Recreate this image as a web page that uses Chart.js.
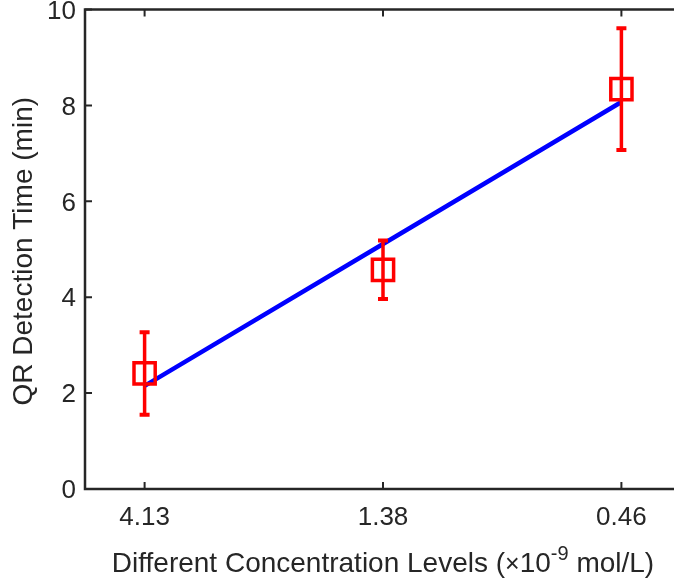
<!DOCTYPE html>
<html>
<head>
<meta charset="utf-8">
<script src="https://cdn.jsdelivr.net/npm/chart.js@4.4.1/dist/chart.umd.min.js"></script>
<style>
  html, body { margin: 0; padding: 0; background: #fff; }
  #wrap { width: 674px; height: 581px; overflow: hidden; }
</style>
</head>
<body>
<div id="wrap"><canvas id="chart" width="681" height="581"></canvas></div>
<script>
// data
const categories = ['4.13', '1.38', '0.46'];
const meanTime = [2.41, 4.57, 8.34];
const errTime = [0.86, 0.61, 1.27];
const fitTime = [2.15, 5.11, 8.07];
const yTicks = [0, 2, 4, 6, 8, 10];

const AXIS = '#262626';
const FONT = "'Liberation Sans', Arial, Helvetica, sans-serif";

// MATLAB-ish box, inward ticks, error bars and axis titles
const matlabAxes = {
  id: 'matlabAxes',
  afterDatasetsDraw(chart) {
    const ctx = chart.ctx, xs = chart.scales.x, ys = chart.scales.y;
    ctx.save();
    ctx.strokeStyle = '#ff0000';
    meanTime.forEach((m, i) => {
      const x = xs.getPixelForValue(i + 1);
      const top = ys.getPixelForValue(m + errTime[i]);
      const bot = ys.getPixelForValue(m - errTime[i]);
      ctx.lineWidth = 3.5;
      ctx.beginPath();
      ctx.moveTo(x, top); ctx.lineTo(x, bot);
      ctx.stroke();
      ctx.lineWidth = 4;
      ctx.beginPath();
      ctx.moveTo(x - 5, top); ctx.lineTo(x + 5, top);
      ctx.moveTo(x - 5, bot); ctx.lineTo(x + 5, bot);
      ctx.stroke();
    });
    ctx.restore();
  },
  afterDraw(chart) {
    const ctx = chart.ctx, a = chart.chartArea;
    const xs = chart.scales.x, ys = chart.scales.y;
    const tl = 7;
    ctx.save();
    ctx.strokeStyle = AXIS;
    ctx.lineWidth = 2.5;
    ctx.strokeRect(a.left, a.top, a.right - a.left, a.bottom - a.top);
    ctx.lineWidth = 2;
    ctx.beginPath();
    categories.forEach((c, i) => {
      const x = xs.getPixelForValue(i + 1);
      ctx.moveTo(x, a.bottom); ctx.lineTo(x, a.bottom - tl);
      ctx.moveTo(x, a.top); ctx.lineTo(x, a.top + tl);
    });
    yTicks.forEach(v => {
      const y = ys.getPixelForValue(v);
      ctx.moveTo(a.left, y); ctx.lineTo(a.left + tl, y);
      ctx.moveTo(a.right, y); ctx.lineTo(a.right - tl, y);
    });
    ctx.stroke();

    // y title
    ctx.fillStyle = AXIS;
    ctx.font = '28px ' + FONT;
    ctx.textAlign = 'center';
    ctx.textBaseline = 'alphabetic';
    ctx.save();
    ctx.translate(32, (a.top + a.bottom) / 2 + 2);
    ctx.rotate(-Math.PI / 2);
    ctx.fillText('QR Detection Time (min)', 0, 0);
    ctx.restore();

    // x title with superscript
    const parts = [
      { t: 'Different Concentration Levels (', f: 28, dy: 0 },
      { t: '\u00d7', f: 25, dy: 0 },
      { t: '10', f: 28, dy: 0 },
      { t: '-9', f: 20, dy: -12 },
      { t: ' mol/L)', f: 28, dy: 0 }
    ];
    let total = 0;
    parts.forEach(p => { ctx.font = p.f + 'px ' + FONT; p.w = ctx.measureText(p.t).width; total += p.w; });
    let x = 383 - total / 2;
    const base = 572;
    ctx.textAlign = 'left';
    parts.forEach(p => {
      ctx.font = p.f + 'px ' + FONT;
      ctx.fillText(p.t, x, base + p.dy);
      x += p.w;
    });
    ctx.restore();
  }
};

new Chart(document.getElementById('chart'), {
  type: 'scatter',
  data: {
    datasets: [
      {
        type: 'scatter',
        data: meanTime.map((v, i) => ({ x: i + 1, y: v })),
        pointStyle: 'rect',
        pointRadius: 15,
        pointHoverRadius: 15,
        borderColor: '#ff0000',
        backgroundColor: 'rgba(0,0,0,0)',
        borderWidth: 3.5,
        order: 0
      },
      {
        type: 'line',
        data: fitTime.map((v, i) => ({ x: i + 1, y: v })),
        borderColor: '#0000ff',
        borderWidth: 4.5,
        pointRadius: 0,
        fill: false,
        tension: 0,
        order: 1
      }
    ]
  },
  options: {
    responsive: false,
    animation: false,
    events: [],
    layout: { autoPadding: false, padding: { top: 9.5, right: 0, bottom: 0, left: 0 } },
    plugins: { legend: { display: false }, tooltip: { enabled: false } },
    scales: {
      x: {
        type: 'linear',
        min: 0.75,
        max: 3.25,
        afterBuildTicks(scale) { scale.ticks = categories.map((c, i) => ({ value: i + 1 })); },
        afterFit(scale) {
          scale.height = 92;
          scale.paddingLeft = 0; scale.paddingRight = 0; scale.paddingTop = 0; scale.paddingBottom = 0;
        },
        ticks: {
          callback: (v, i) => categories[i],
          color: AXIS,
          font: { family: FONT, size: 26 },
          padding: 13,
          maxRotation: 0,
          autoSkip: false
        },
        grid: { display: false, drawTicks: false },
        border: { display: false }
      },
      y: {
        min: 0,
        max: 10,
        afterBuildTicks(scale) { scale.ticks = yTicks.map(v => ({ value: v })); },
        afterFit(scale) {
          scale.width = 85;
          scale.paddingLeft = 0; scale.paddingRight = 0; scale.paddingTop = 0; scale.paddingBottom = 0;
        },
        ticks: {
          // empty first line nudges each label ~2px below its tick, as in the figure
          callback: v => ['', String(v)],
          color: AXIS,
          font: { family: FONT, size: 26, lineHeight: 0.16 },
          padding: 9
        },
        grid: { display: false, drawTicks: false },
        border: { display: false }
      }
    }
  },
  plugins: [matlabAxes]
});
</script>
</body>
</html>
